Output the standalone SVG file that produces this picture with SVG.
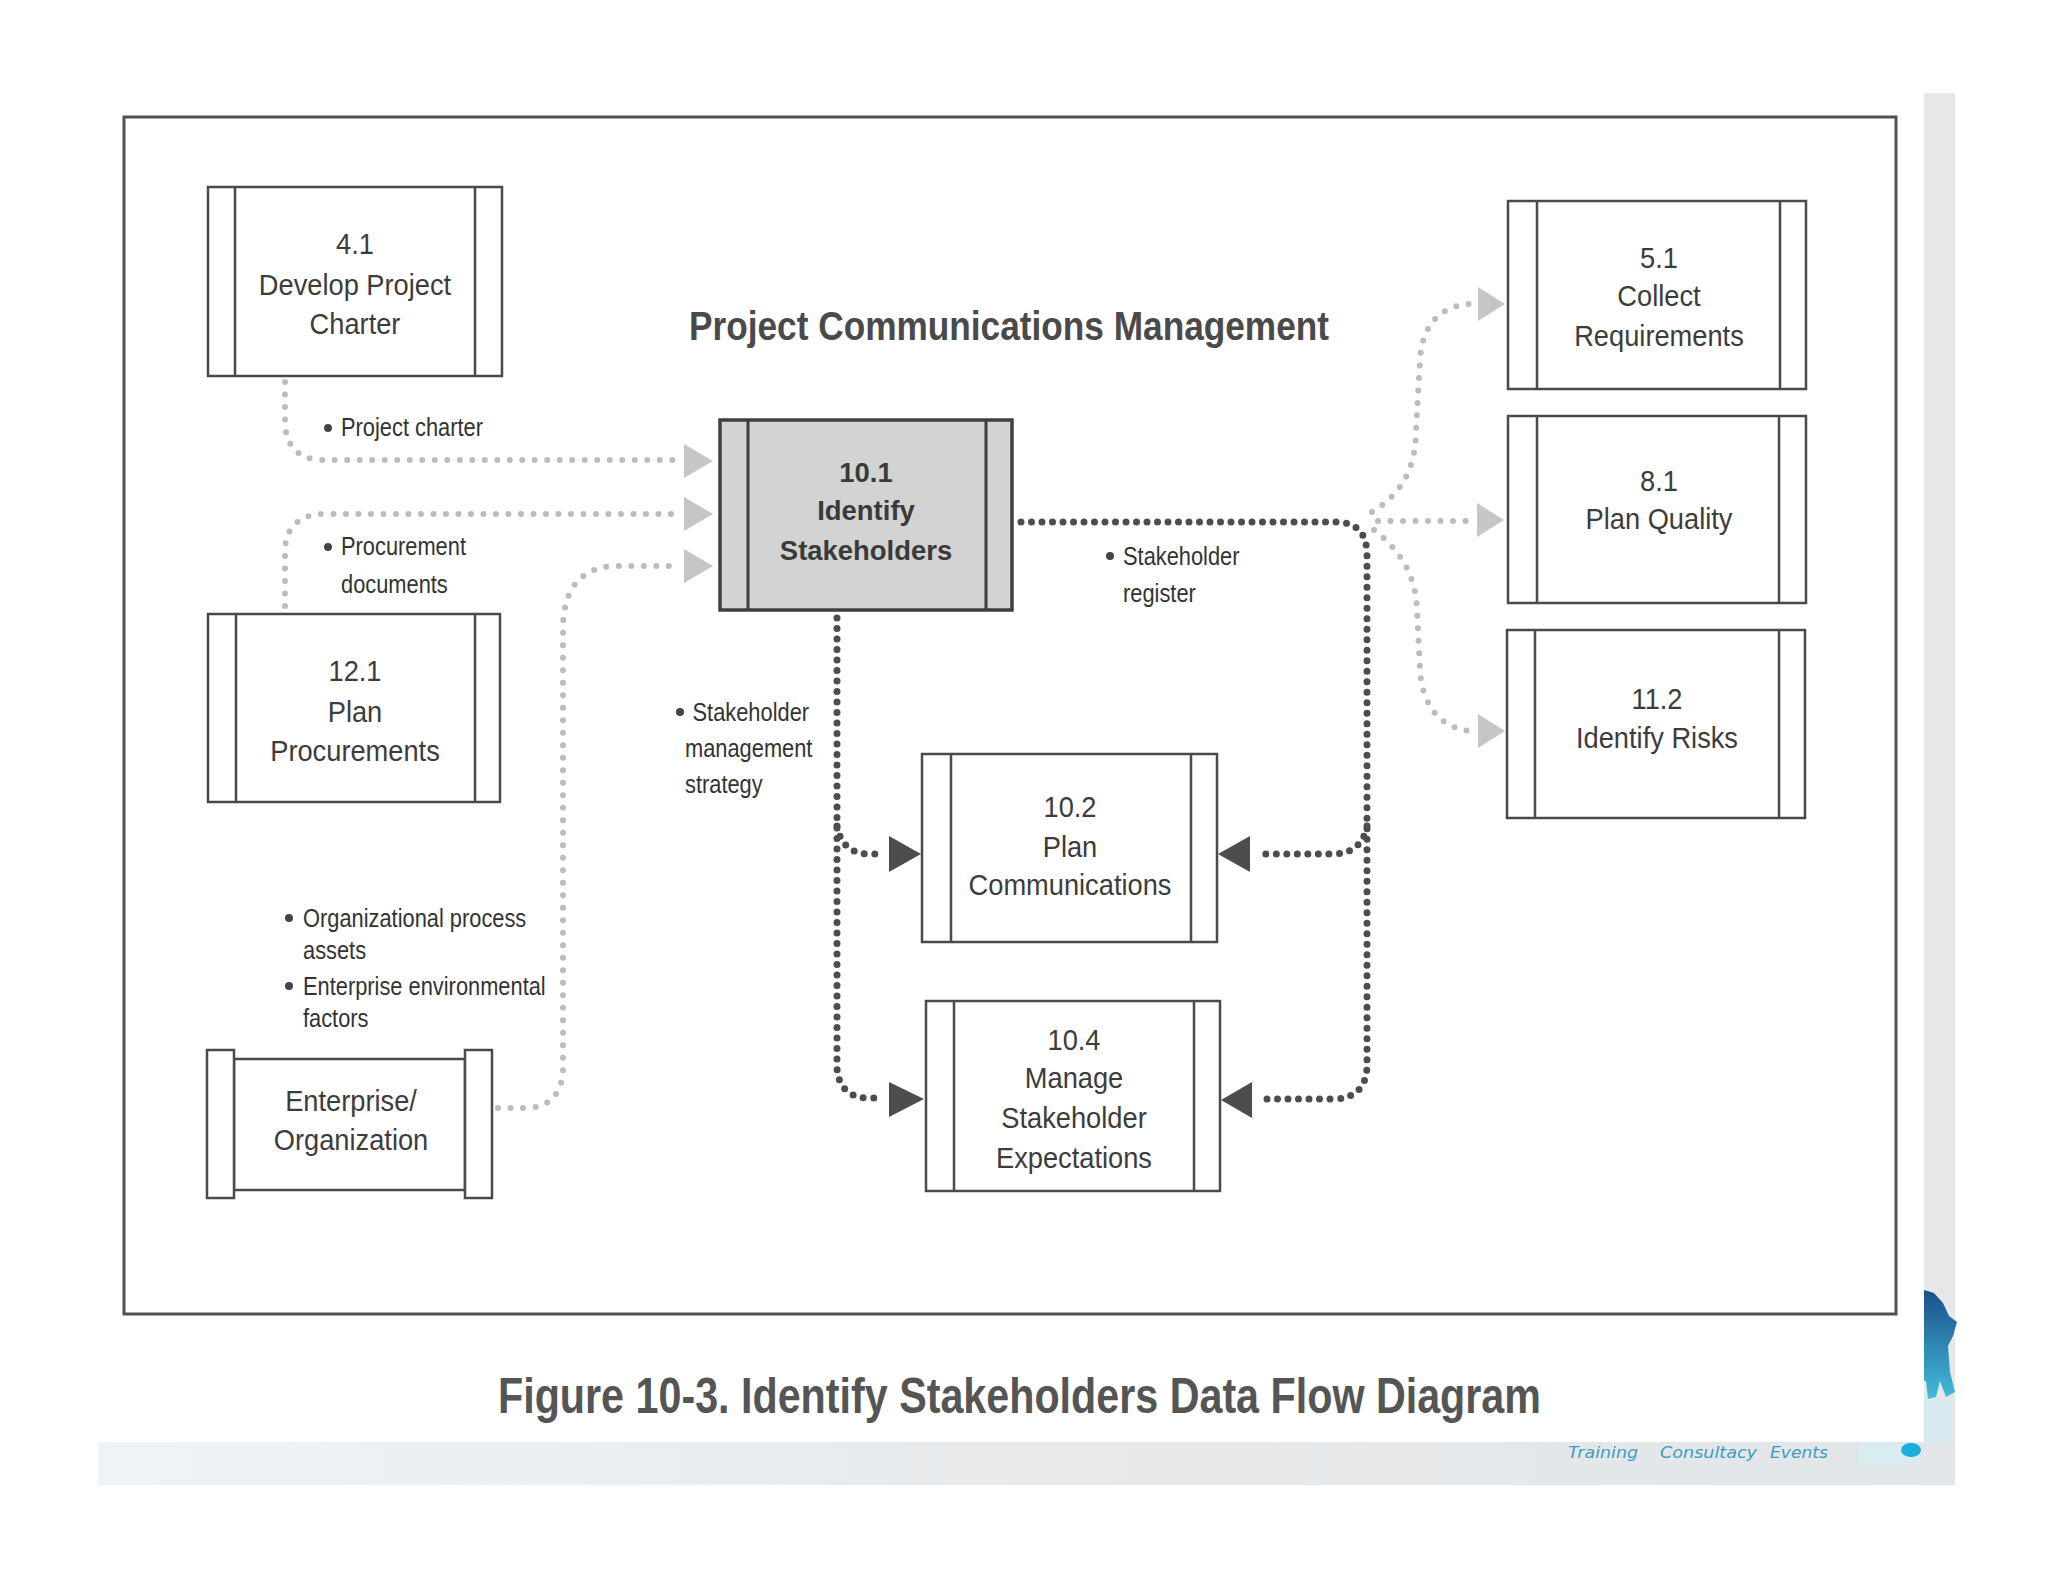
<svg xmlns="http://www.w3.org/2000/svg" width="2048" height="1582" viewBox="0 0 2048 1582">
<style>
.box{fill:#fff;stroke:#4a4a4a;stroke-width:2.5}
.bar{fill:none;stroke:#4a4a4a;stroke-width:2.5}
.nt{font-family:"Liberation Sans",Arial,sans-serif;font-size:29px;fill:#3c3c3c;text-anchor:middle}
.bt{font-family:"Liberation Sans",Arial,sans-serif;font-size:28px;font-weight:bold;fill:#3a3a3a;text-anchor:middle}
.lbl{font-family:"Liberation Sans",Arial,sans-serif;font-size:26px;fill:#333}
.tag{font-family:"DejaVu Sans",Verdana,sans-serif;font-style:italic;font-size:15px;fill:#3a9ec0}
.dot{fill:#444}
.dk{fill:none;stroke:#4d4d4d;stroke-width:7;stroke-linecap:round;stroke-dasharray:0 10.5}
.lt{fill:none;stroke:#bcbcbc;stroke-width:6;stroke-linecap:round;stroke-dasharray:0 12.5}
.ahd{fill:#4d4d4d}
.ahl{fill:#c6c6c6}
</style>
<defs>
<linearGradient id="band" x1="0" y1="0" x2="1" y2="0">
<stop offset="0" stop-color="#eef4f6"/>
<stop offset="0.5" stop-color="#e7e9eb"/>
<stop offset="1" stop-color="#e3e6e8"/>
</linearGradient>
<linearGradient id="fig" x1="0" y1="0" x2="0" y2="1">
<stop offset="0" stop-color="#1b4f8c"/>
<stop offset="1" stop-color="#43bcd8"/>
</linearGradient>
</defs>
<rect x="0" y="0" width="2048" height="1582" fill="#fff"/>
<!-- page decorations -->
<rect x="1924" y="93" width="31" height="1392" fill="#e7e7e9"/>
<rect x="98" y="1442" width="1857" height="43" fill="url(#band)"/>
<rect x="1858" y="1443" width="62" height="22" fill="#d9ecef"/>
<rect x="1924" y="1400" width="28" height="42" fill="#d6eaf0"/>
<path d="M1924 1290 L1934 1293 L1943 1303 L1949 1316 L1957 1322 L1953 1336 L1948 1346 L1950 1372 L1955 1392 L1946 1397 L1940 1381 L1936 1397 L1928 1399 L1926 1381 L1924 1381 Z" fill="url(#fig)"/>
<ellipse cx="1911" cy="1450" rx="10" ry="7" fill="#1aaedb"/>
<text class="tag" x="1568" y="1458" textLength="70" lengthAdjust="spacingAndGlyphs">Training</text>
<text class="tag" x="1660" y="1458" textLength="97" lengthAdjust="spacingAndGlyphs">Consultacy</text>
<text class="tag" x="1770" y="1458" textLength="58" lengthAdjust="spacingAndGlyphs">Events</text>
<!-- frame -->
<rect x="124" y="117" width="1772" height="1197" fill="none" stroke="#505050" stroke-width="3"/>
<text x="689" y="340" font-family="'Liberation Sans',Arial,sans-serif" font-size="40" font-weight="bold" fill="#4a4a4a" textLength="640" lengthAdjust="spacingAndGlyphs">Project Communications Management</text>
<!-- connectors -->
<g id="connectors">
<path class="lt" d="M285 382 V424 Q287 457 319 460 H676"/>
<polygon class="ahl" points="684,444 713,461 684,478"/>
<path class="lt" d="M285 606 V548 Q288 516 322 514 H676"/>
<polygon class="ahl" points="684,497 713,514 684,531"/>
<path class="lt" d="M498 1108 H530 Q560 1105 563 1072 V625 Q565 570 612 566 H676"/>
<polygon class="ahl" points="684,549 713,566 684,583"/>
<path class="lt" d="M1378 521 H1470"/>
<polygon class="ahl" points="1477,503 1504,520 1477,537"/>
<path class="lt" d="M1372 512 C1400 495 1416 470 1416 430 L1420 360 C1422 325 1440 306 1470 304"/>
<polygon class="ahl" points="1478,287 1505,304 1478,321"/>
<path class="lt" d="M1374 530 C1400 550 1416 575 1417 610 L1420 670 C1422 705 1440 728 1470 731"/>
<polygon class="ahl" points="1478,714 1505,731 1478,748"/>
<path class="dk" d="M837 618 V1068 Q839 1096 866 1098 H884"/>
<path class="dk" d="M837 826 Q842 852 866 854 H882"/>
<polygon class="ahd" points="889,836 921,854 889,872"/>
<polygon class="ahd" points="889,1082 924,1099 889,1117"/>
<path class="dk" d="M1021 522 H1336 Q1367 522 1367 555 V1068 Q1365 1097 1336 1099 H1260"/>
<path class="dk" d="M1367 826 Q1362 852 1336 854 H1258"/>
<polygon class="ahd" points="1250,836 1218,854 1250,872"/>
<polygon class="ahd" points="1252,1082 1221,1100 1252,1118"/>
</g>
<!-- labels -->
<g id="labels">
<circle class="dot" cx="328" cy="428" r="4"/>
<text class="lbl" transform="translate(341 0) scale(.84 1)"><tspan x="0" y="436">Project charter</tspan></text>
<circle class="dot" cx="328" cy="547" r="4"/>
<text class="lbl" transform="translate(341 0) scale(.84 1)"><tspan x="0" y="555">Procurement</tspan><tspan x="0" y="593">documents</tspan></text>
<circle class="dot" cx="1110" cy="556" r="4"/>
<text class="lbl" transform="translate(1123 0) scale(.84 1)"><tspan x="0" y="565">Stakeholder</tspan><tspan x="0" y="602">register</tspan></text>
<circle class="dot" cx="680" cy="712" r="4"/>
<text class="lbl" transform="translate(685 0) scale(.84 1)"><tspan x="9" y="721">Stakeholder</tspan><tspan x="0" y="757">management</tspan><tspan x="0" y="793">strategy</tspan></text>
<circle class="dot" cx="289" cy="918" r="4"/>
<text class="lbl" transform="translate(303 0) scale(.84 1)"><tspan x="0" y="927">Organizational process</tspan><tspan x="0" y="959">assets</tspan></text>
<circle class="dot" cx="289" cy="986" r="4"/>
<text class="lbl" transform="translate(303 0) scale(.84 1)"><tspan x="0" y="995">Enterprise environmental</tspan><tspan x="0" y="1027">factors</tspan></text>
</g>
<!-- nodes -->
<g id="n4-1">
<rect class="box" x="208" y="187" width="294" height="189"/>
<path class="bar" d="M235 187V376M475 187V376"/>
<text class="nt" transform="translate(355 0) scale(.94 1)"><tspan x="0" y="254">4.1</tspan><tspan x="0" y="295">Develop Project</tspan><tspan x="0" y="334">Charter</tspan></text>
</g>
<g id="n12-1">
<rect class="box" x="208" y="614" width="292" height="188"/>
<path class="bar" d="M236 614V802M475 614V802"/>
<text class="nt" transform="translate(355 0) scale(.94 1)"><tspan x="0" y="681">12.1</tspan><tspan x="0" y="722">Plan</tspan><tspan x="0" y="761">Procurements</tspan></text>
</g>
<g id="n-enterprise">
<rect class="box" x="234" y="1059" width="231" height="131"/>
<rect class="box" x="207" y="1050" width="27" height="148"/>
<rect class="box" x="465" y="1050" width="27" height="148"/>
<text class="nt" transform="translate(351 0) scale(.94 1)"><tspan x="0" y="1111">Enterprise/</tspan><tspan x="0" y="1150">Organization</tspan></text>
</g>
<g id="n10-1">
<rect x="720" y="420" width="292" height="190" fill="#d3d3d3" stroke="#3f3f3f" stroke-width="3.5"/>
<path d="M748 420V610M986 420V610" stroke="#3f3f3f" stroke-width="3"/>
<text class="bt" transform="translate(866 0) scale(.98 1)"><tspan x="0" y="482">10.1</tspan><tspan x="0" y="520">Identify</tspan><tspan x="0" y="560">Stakeholders</tspan></text>
</g>
<g id="n10-2">
<rect class="box" x="922" y="754" width="295" height="188"/>
<path class="bar" d="M951 754V942M1191 754V942"/>
<text class="nt" transform="translate(1070 0) scale(.94 1)"><tspan x="0" y="817">10.2</tspan><tspan x="0" y="857">Plan</tspan><tspan x="0" y="895">Communications</tspan></text>
</g>
<g id="n10-4">
<rect class="box" x="926" y="1001" width="294" height="190"/>
<path class="bar" d="M954 1001V1191M1194 1001V1191"/>
<text class="nt" transform="translate(1074 0) scale(.94 1)"><tspan x="0" y="1050">10.4</tspan><tspan x="0" y="1088">Manage</tspan><tspan x="0" y="1128">Stakeholder</tspan><tspan x="0" y="1168">Expectations</tspan></text>
</g>
<g id="n5-1">
<rect class="box" x="1508" y="201" width="298" height="188"/>
<path class="bar" d="M1537 201V389M1780 201V389"/>
<text class="nt" transform="translate(1659 0) scale(.94 1)"><tspan x="0" y="268">5.1</tspan><tspan x="0" y="306">Collect</tspan><tspan x="0" y="346">Requirements</tspan></text>
</g>
<g id="n8-1">
<rect class="box" x="1508" y="416" width="298" height="187"/>
<path class="bar" d="M1537 416V603M1779 416V603"/>
<text class="nt" transform="translate(1659 0) scale(.94 1)"><tspan x="0" y="491">8.1</tspan><tspan x="0" y="529">Plan Quality</tspan></text>
</g>
<g id="n11-2">
<rect class="box" x="1507" y="630" width="298" height="188"/>
<path class="bar" d="M1535 630V818M1779 630V818"/>
<text class="nt" transform="translate(1657 0) scale(.94 1)"><tspan x="0" y="709">11.2</tspan><tspan x="0" y="748">Identify Risks</tspan></text>
</g>
<text x="498" y="1413" font-family="'Liberation Sans',Arial,sans-serif" font-size="50" font-weight="bold" fill="#555" textLength="1043" lengthAdjust="spacingAndGlyphs">Figure 10-3. Identify Stakeholders Data Flow Diagram</text>
</svg>
